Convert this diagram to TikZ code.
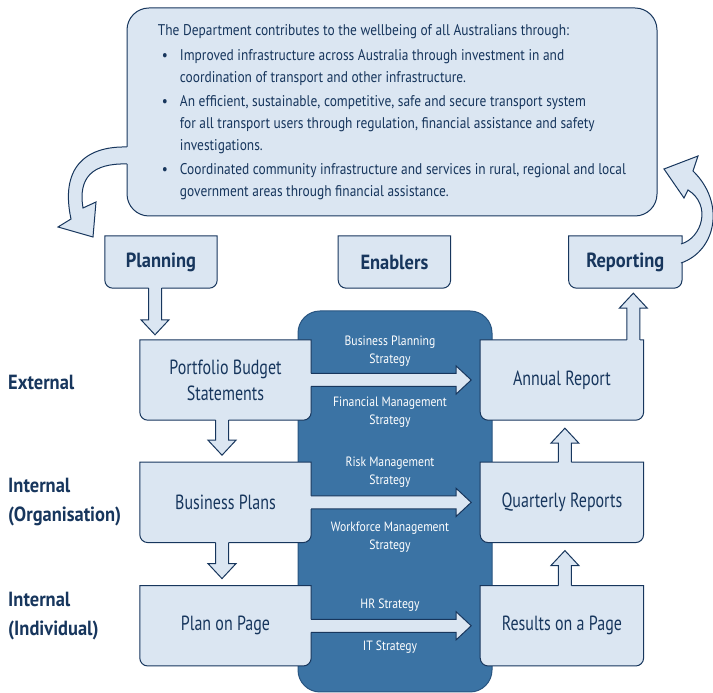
\documentclass[tikz,border=0pt]{standalone}
\usepackage{fontspec}
\setmainfont{PT Sans}[FakeStretch=0.78, BoldFeatures={FakeStretch=0.9}]
\newfontfamily\notefont{PT Sans}[FakeStretch=0.865]
\usetikzlibrary{positioning,calc,backgrounds}

\definecolor{navy}{RGB}{23,54,93}
\definecolor{boxfill}{RGB}{219,230,242}
\definecolor{colfill}{RGB}{59,115,164}
\definecolor{colline}{RGB}{40,84,128}

% wide block arrow from #2 towards #3, tip stopping #1 short of #3
\newcommand{\blockarrow}[3][7]{%
  \path let \p1=($#3-#2$), \n1={veclen(\x1,\y1)}, \n2={atan2(\y1,\x1)} in
    \pgfextra{\xdef\arrlen{\n1}\xdef\arrang{\n2}};
  \begin{scope}[shift={#2}, rotate=\arrang]
    \fill[boxfill] (-1.5,6.5) -- (\arrlen-#1-15,6.5) -- (\arrlen-#1-15,14) -- (\arrlen-#1,0)
      -- (\arrlen-#1-15,-14) -- (\arrlen-#1-15,-6.5) -- (-1.5,-6.5) -- cycle;
    \draw[navy, line width=1pt] (0,6.5) -- (\arrlen-#1-15,6.5) -- (\arrlen-#1-15,14) -- (\arrlen-#1,0)
      -- (\arrlen-#1-15,-14) -- (\arrlen-#1-15,-6.5) -- (0,-6.5);
  \end{scope}}

\begin{document}
\begin{tikzpicture}[x=1pt, y=1pt,
  box/.style={minimum width=171pt, minimum height=80pt, inner sep=0pt, align=center,
    text=navy, font=\fontsize{20.5}{26}\selectfont},
  rbox/.style={box, minimum width=163pt},
  head/.style={box, minimum width=112pt, minimum height=52pt,
    font=\fontsize{20.5}{26}\selectfont\bfseries},
  level/.style={anchor=west, align=left, inner sep=0pt, text=navy,
    font=\fontsize{20.5}{29}\selectfont\bfseries},
  strat/.style={align=center, text=white, font=\notefont\fontsize{13.5}{18}\selectfont},
  boxline/.style={draw=navy, fill=boxfill, line width=1pt},
  node distance=42pt
]
  \useasboundingbox (0,0) rectangle (713,693);

  % outcome statement
  \node[boxline, rounded corners=22pt, minimum width=530pt, minimum height=208pt, inner sep=0pt,
    align=left, text=navy, font=\notefont\fontsize{15.5}{22}\selectfont] (mission) at (392,581)
    {The Department contributes to the wellbeing of all Australians through:\\[3pt]
     \makebox[22pt][l]{\hspace{4pt}\textbullet}Improved infrastructure across Australia through investment in and\\
     \hspace*{22pt}coordination of transport and other infrastructure.\\[2pt]
     \makebox[22pt][l]{\hspace{4pt}\textbullet}An efficient, sustainable, competitive, safe and secure transport system\\
     \hspace*{22pt}for all transport users through regulation, financial assistance and safety\\
     \hspace*{22pt}investigations.\\[2pt]
     \makebox[22pt][l]{\hspace{4pt}\textbullet}Coordinated community infrastructure and services in rural, regional and local\\
     \hspace*{22pt}government areas through financial assistance.};

  \node[head] (planning) at (161,431) {Planning};
  \node[head, right=121pt of planning] (enablers) {Enablers};
  \node[head, minimum width=113pt, right=118pt of enablers] (reporting) {Reporting};

  \node[box] (pbs) at (225.5,313) {Portfolio Budget\\Statements};
  \node[box, below=of pbs] (bplans) {Business Plans};
  \node[box, below=43pt of bplans] (planpage) {Plan on Page};

  \node[rbox, right=169pt of pbs] (annual) {Annual Report};
  \node[rbox, below=of annual] (quarterly) {Quarterly Reports};
  \node[rbox, below=43pt of quarterly] (results) {Results on a Page};

  \node[level] (external) at (8,311) {External};
  \node[level] (internalorg) at (8,190.5) {Internal\\(Organisation)};
  \node[level] (internalind) at (8,76.5) {Internal\\(Individual)};

  \node[strat] (bpstrat) at (390,342) {Business Planning\\Strategy};
  \node[strat] (fmstrat) at (390,281) {Financial Management\\Strategy};
  \node[strat] (rmstrat) at (390,221) {Risk Management\\Strategy};
  \node[strat] (wmstrat) at (390,156) {Workforce Management\\Strategy};
  \node[strat] (hrstrat) at (390,88) {HR Strategy};
  \node[strat] (itstrat) at (390,46) {IT Strategy};

  % enablers column and boxes with rounded lower corners
  \begin{scope}[on background layer]
    \draw[colline, fill=colfill, line width=1pt, rounded corners=22pt] (298,1) rectangle (492,382);
    \foreach \b in {planning,enablers,reporting,pbs,bplans,planpage,annual,quarterly,results}
      \draw[boxline] (\b.north west) -- ([yshift=8pt]\b.south west)
        arc[start angle=180, end angle=270, radius=8pt] -- ([xshift=-8pt]\b.south east)
        arc[start angle=270, end angle=360, radius=8pt] -- (\b.north east) -- cycle;
  \end{scope}

  \blockarrow[5]{([xshift=-6pt]planning.south)}{([xshift=-6pt]planning.south |- pbs.north)}
  \blockarrow{([xshift=-3.5pt]pbs.south)}{([xshift=-3.5pt]pbs.south |- bplans.north)}
  \blockarrow{([xshift=-3.5pt]bplans.south)}{([xshift=-3.5pt]bplans.south |- planpage.north)}

  \blockarrow[9]{(pbs.east)}{(annual.west)}
  \blockarrow[9]{(bplans.east)}{(quarterly.west)}
  \blockarrow[9]{(planpage.east)}{(results.west)}

  \blockarrow[8]{([xshift=3pt]results.north)}{([xshift=3pt]quarterly.south)}
  \blockarrow[8]{([xshift=3pt]quarterly.north)}{([xshift=3pt]annual.south)}
  \blockarrow[5]{([xshift=8pt]reporting.south |- annual.north)}{([xshift=8pt]reporting.south)}

  % curved arrows into planning and back from reporting
  \fill[boxfill] (129,546) -- (127,546) .. controls (85,547) and (60,525) .. (71,474)
    -- (58,466) -- (93,456) -- (96,491) -- (83,485)
    .. controls (78,515) and (92,530) .. (127,529) -- (129,529) -- cycle;
  \draw[navy, line width=1pt] (127,546) .. controls (85,547) and (60,525) .. (71,474)
    -- (58,466) -- (93,456) -- (96,491) -- (83,485)
    .. controls (78,515) and (92,530) .. (127,529);

  \fill[boxfill] (679,449) -- (681,449) .. controls (702,455) and (712,488) .. (688,503)
    -- (684,495) -- (664,524) -- (698,537) -- (693,522)
    .. controls (726,490) and (716,442) .. (681,430) -- (679,430) -- cycle;
  \draw[navy, line width=1pt] (681,449) .. controls (702,455) and (712,488) .. (688,503)
    -- (684,495) -- (664,524) -- (698,537) -- (693,522)
    .. controls (726,490) and (716,442) .. (681,430);
\end{tikzpicture}
\end{document}
